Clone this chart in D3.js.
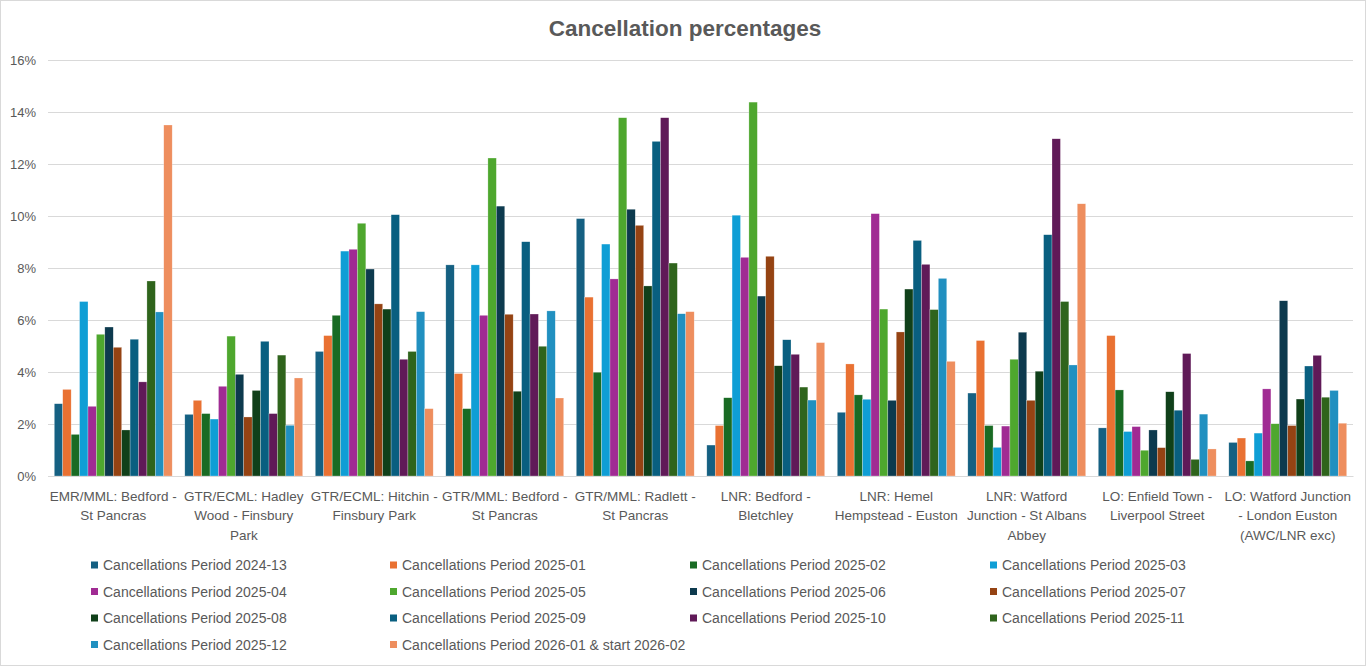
<!DOCTYPE html>
<html>
<head>
<meta charset="utf-8">
<script src="https://cdn.jsdelivr.net/npm/d3@7"></script>
<style>
  body { margin: 0; background: #fff; }
  text { font-family: "Liberation Sans", Arial, sans-serif; fill: #595959; }
</style>
</head>
<body>
<script>
// Routes (x categories), each label split into the lines the chart shows
const categories = [
  "EMR/MML: Bedford - St Pancras",
  "GTR/ECML: Hadley Wood - Finsbury Park",
  "GTR/ECML: Hitchin - Finsbury Park",
  "GTR/MML: Bedford - St Pancras",
  "GTR/MML: Radlett - St Pancras",
  "LNR: Bedford - Bletchley",
  "LNR: Hemel Hempstead - Euston",
  "LNR: Watford Junction - St Albans Abbey",
  "LO: Enfield Town - Liverpool Street",
  "LO: Watford Junction - London Euston (AWC/LNR exc)"
];
const categoryLines = [
  ["EMR/MML: Bedford -", "St Pancras"],
  ["GTR/ECML: Hadley", "Wood - Finsbury", "Park"],
  ["GTR/ECML: Hitchin -", "Finsbury Park"],
  ["GTR/MML: Bedford -", "St Pancras"],
  ["GTR/MML: Radlett -", "St Pancras"],
  ["LNR: Bedford -", "Bletchley"],
  ["LNR: Hemel", "Hempstead - Euston"],
  ["LNR: Watford", "Junction - St Albans", "Abbey"],
  ["LO: Enfield Town -", "Liverpool Street"],
  ["LO: Watford Junction", "- London Euston", "(AWC/LNR exc)"]
];

const seriesNames = [
  "Cancellations Period 2024-13",
  "Cancellations Period 2025-01",
  "Cancellations Period 2025-02",
  "Cancellations Period 2025-03",
  "Cancellations Period 2025-04",
  "Cancellations Period 2025-05",
  "Cancellations Period 2025-06",
  "Cancellations Period 2025-07",
  "Cancellations Period 2025-08",
  "Cancellations Period 2025-09",
  "Cancellations Period 2025-10",
  "Cancellations Period 2025-11",
  "Cancellations Period 2025-12",
  "Cancellations Period 2026-01 & start 2026-02"
];

// values in %, one array per period, in category order
const p2024_13 = [2.78, 2.37, 4.79, 8.12, 9.90, 1.19, 2.45, 3.19, 1.85, 1.29];
const p2025_01 = [3.33, 2.91, 5.40, 3.94, 6.88, 1.94, 4.31, 5.21, 5.40, 1.46];
const p2025_02 = [1.60, 2.40, 6.18, 2.59, 3.99, 3.01, 3.12, 1.94, 3.31, 0.58];
const p2025_03 = [6.71, 2.19, 8.65, 8.12, 8.92, 10.03, 2.95, 1.10, 1.71, 1.65];
const p2025_04 = [2.68, 3.45, 8.72, 6.18, 7.58, 8.41, 10.09, 1.92, 1.90, 3.35];
const p2025_05 = [5.45, 5.38, 9.72, 12.23, 13.78, 14.38, 6.42, 4.49, 0.99, 2.01];
const p2025_06 = [5.73, 3.91, 7.96, 10.38, 10.26, 6.92, 2.91, 5.53, 1.77, 6.74];
const p2025_07 = [4.95, 2.27, 6.62, 6.22, 9.64, 8.45, 5.54, 2.91, 1.09, 1.94];
const p2025_08 = [1.77, 3.29, 6.42, 3.26, 7.31, 4.24, 7.19, 4.03, 3.24, 2.96];
const p2025_09 = [5.26, 5.18, 10.05, 9.01, 12.87, 5.24, 9.06, 9.28, 2.53, 4.23];
const p2025_10 = [3.62, 2.40, 4.49, 6.23, 13.78, 4.68, 8.14, 12.97, 4.71, 4.64];
const p2025_11 = [7.50, 4.65, 4.79, 4.99, 8.19, 3.42, 6.40, 6.71, 0.64, 3.03];
const p2025_12 = [6.31, 1.95, 6.32, 6.35, 6.24, 2.92, 7.60, 4.27, 2.38, 3.29];
const p2026_01 = [13.50, 3.77, 2.59, 3.00, 6.32, 5.13, 4.41, 10.47, 1.04, 2.03];

const seriesValues = [p2024_13, p2025_01, p2025_02, p2025_03, p2025_04, p2025_05, p2025_06,
  p2025_07, p2025_08, p2025_09, p2025_10, p2025_11, p2025_12, p2026_01];

const colors = ["#156082", "#E97132", "#196B24", "#0F9ED5", "#A02B93", "#4EA72E", "#0D3A4E",
  "#954313", "#10401A", "#095F80", "#601A58", "#2F641C", "#2190C0", "#EE8E5E"];

const yTicks = [0, 2, 4, 6, 8, 10, 12, 14, 16];

const width = 1366, height = 666;
const svg = d3.select("body").append("svg")
  .attr("width", width)
  .attr("height", height);

// chart border
svg.append("rect")
  .attr("x", 0.5).attr("y", 0.5)
  .attr("width", width - 1).attr("height", height - 1)
  .attr("fill", "#fff").attr("stroke", "#d9d9d9");

svg.append("text")
  .attr("x", 685).attr("y", 36)
  .attr("text-anchor", "middle")
  .attr("font-size", 22.5).attr("font-weight", "bold")
  .text("Cancellation percentages");

const gap = 1.5 / 15.5;
const x0 = d3.scaleBand().domain(categories).range([48, 1353])
  .paddingInner(gap).paddingOuter(gap / 2);
const x1 = d3.scaleBand().domain(seriesNames).range([0, x0.bandwidth()]);
const y = d3.scaleLinear().domain([0, 16]).range([476, 60]);

// gridlines + y labels
const yAxis = svg.append("g")
  .attr("transform", "translate(48,0)")
  .call(d3.axisLeft(y).tickValues(yTicks).tickFormat(d => d + "%")
    .tickSize(-(1353 - 48)).tickPadding(12));
yAxis.select(".domain").remove();
yAxis.selectAll("line").attr("stroke", "#d9d9d9").attr("stroke-width", 1);
yAxis.selectAll("text").attr("font-size", 13).attr("fill", "#595959")
  .style("font-family", "'Liberation Sans', Arial, sans-serif");

// bars
const groups = svg.append("g").selectAll("g")
  .data(categories)
  .join("g")
  .attr("transform", d => `translate(${x0(d)},0)`);

groups.selectAll("rect")
  .data((d, i) => seriesNames.map((s, k) => ({ s, k, v: seriesValues[k][i] })))
  .join("rect")
  .attr("x", d => x1(d.s))
  .attr("width", x1.bandwidth())
  .attr("y", d => y(d.v))
  .attr("height", d => y(0) - y(d.v))
  .attr("fill", d => colors[d.k])
  .attr("stroke", "#fff")
  .attr("stroke-opacity", 0.5)
  .attr("stroke-width", 0.5);

// category labels
const xAxis = svg.append("g")
  .attr("transform", "translate(0,476)")
  .call(d3.axisBottom(x0).tickSize(0).tickFormat(""));
xAxis.select(".domain").attr("stroke", "#d9d9d9");
xAxis.selectAll(".tick").each(function (d, i) {
  const t = d3.select(this).append("text")
    .attr("text-anchor", "middle")
    .attr("font-size", 13.5)
    .attr("fill", "#595959")
    .style("font-family", "'Liberation Sans', Arial, sans-serif");
  categoryLines[i].forEach((line, j) => {
    t.append("tspan").attr("x", 0).attr("y", 25 + j * 19.3).text(line);
  });
});

// legend: 4 columns x 4 rows
const legendCols = [91, 390, 690, 990];
const legendRows = [565, 591.5, 618, 644.5];
const legend = svg.append("g").selectAll("g")
  .data(seriesNames)
  .join("g")
  .attr("transform", (d, i) => `translate(${legendCols[i % 4]},${legendRows[Math.floor(i / 4)]})`);
legend.append("rect")
  .attr("x", 0).attr("y", -3.5)
  .attr("width", 7).attr("height", 7)
  .attr("fill", (d, i) => colors[i]);
legend.append("text")
  .attr("x", 12).attr("y", 5)
  .attr("font-size", 14)
  .text(d => d);
</script>
</body>
</html>
